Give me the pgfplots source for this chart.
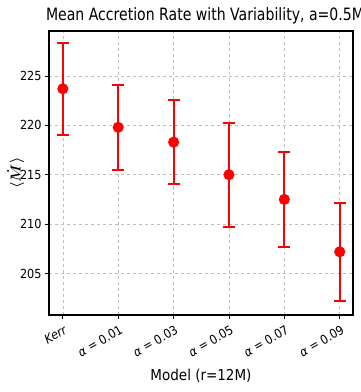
\documentclass[border=0pt]{standalone}
\usepackage{pgfplots}
\pgfplotsset{compat=1.18}
\usepackage{amsmath}
\usepackage{fontspec}
\setmainfont{DejaVu Sans Condensed}
\newfontfamily\titlefont[FakeStretch=0.92]{DejaVu Sans Condensed}
\begin{document}
\begin{tikzpicture}
\begin{axis}[
  name=ax,
  scale only axis,
  width=304pt, height=284pt,
  xmin=-0.25, xmax=5.24,
  ymin=200.8, ymax=229.55,
  xtick={0,1,2,3,4,5},
  xticklabels={\textit{Kerr},{\textit{α} = 0.01},{\textit{α} = 0.03},{\textit{α} = 0.05},{\textit{α} = 0.07},{\textit{α} = 0.09}},
  x tick label style={rotate=30, anchor=north east, font=\fontsize{12.5}{13}\selectfont, inner sep=2pt, yshift=-3pt},
  ytick={205,210,215,220,225},
  y tick label style={font=\fontsize{12.5}{13}\selectfont},
  /pgf/number format/assume math mode=true,
  grid=major,
  major grid style={gray!50, dashed, line width=0.5pt},
  axis line style={line width=1.4pt},
  tick style={black, line width=0.7pt},
  tick align=outside,
  major tick length=4pt,
  xtick pos=bottom, ytick pos=left,
  xlabel={Model (r=12M)},
  ylabel={$\boldsymbol{\langle\dot{M}\rangle}$},
  xlabel style={font=\fontsize{15}{16}\selectfont, yshift=-6pt},
  ylabel style={font=\fontsize{14}{15}\selectfont, yshift=-11pt},
  title={Mean Accretion Rate with Variability, a=0.5M},
  title style={font=\titlefont\fontsize{17}{18}\selectfont, yshift=-3pt, xshift=4pt},
]
\addplot[red, line width=2pt, only marks, mark=*, mark size=4.5pt,
  error bars/.cd, y dir=both, y explicit,
  error bar style={line width=2pt, red},
  error mark options={rotate=90, mark size=6pt, line width=2pt, red}]
table[x=x, y=y, y error=e] {
x y e
0 223.7 4.65
1 219.8 4.3
2 218.3 4.25
3 215.0 5.25
4 212.5 4.85
5 207.2 4.95
};
\end{axis}
\pgfresetboundingbox
\useasboundingbox (ax.south west) ++(-49pt,-77pt) rectangle ([xshift=7pt,yshift=31pt]ax.north east);
\end{tikzpicture}
\end{document}
